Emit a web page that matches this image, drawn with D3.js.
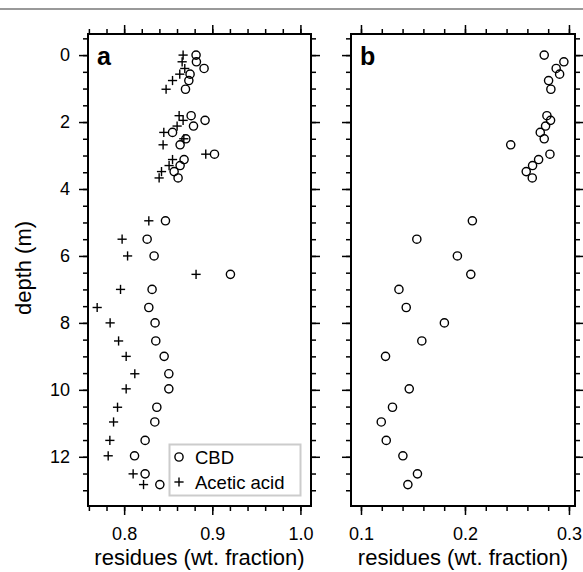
<!DOCTYPE html>
<html>
<head>
<meta charset="utf-8">
<script src="https://cdn.jsdelivr.net/npm/d3@7"></script>
<style>
  body { margin: 0; background: #fff; }
  svg { display: block; font-family: "Liberation Sans", Arial, sans-serif; }
  .tick text { font-size: 18px; fill: #000; }
  .tick line { stroke: #000; stroke-width: 1.5; }
</style>
</head>
<body>
<svg></svg>
<script>
(function (d3) {
  'use strict';

  // depth of each sample (m)
  const depth = [0, 0.2, 0.4, 0.57, 0.76, 1.02, 1.81, 1.95, 2.12, 2.31, 2.5, 2.68, 2.96, 3.12, 3.3, 3.48, 3.67,
    4.95, 5.5, 6.0, 6.55, 7.0, 7.54, 8.0, 8.54,
    9.0, 9.52, 9.97, 10.52, 10.96, 11.51, 11.97, 12.51, 12.83];

  // panel a: residues (wt. fraction)
  const cbdA = [0.8816, 0.882, 0.8907, 0.8748, 0.8734, 0.8696, 0.876, 0.8918, 0.8787, 0.8549, 0.87, 0.8635, 0.9025, 0.868, 0.8635, 0.8567, 0.8612,
    0.8469, 0.8261, 0.834, 0.9206, 0.8317, 0.828, 0.8351, 0.8359,
    0.8454, 0.8507, 0.8507, 0.8371, 0.8348, 0.8238, 0.8118, 0.8238, 0.8405];
  const aceticA = [0.8669, 0.8658, 0.8688, 0.8631, 0.8549, 0.8476, 0.8624, 0.8669, 0.8601, 0.845, 0.8677, 0.8442, 0.8926, 0.8549, 0.851, 0.8424, 0.8397,
    0.828, 0.7977, 0.8039, 0.8816, 0.7959, 0.7694, 0.7841, 0.7937,
    0.8023, 0.8121, 0.8023, 0.7925, 0.788, 0.7838, 0.7819, 0.8102, 0.822];

  // panel b
  const cbdB = [0.2762, 0.2951, 0.2877, 0.291, 0.2804, 0.2826, 0.2788, 0.2823, 0.2775, 0.2724, 0.2762, 0.244, 0.2817, 0.2708, 0.265, 0.2589, 0.2647,
    0.2071, 0.1537, 0.1927, 0.2056, 0.1365, 0.1435, 0.1802, 0.1585,
    0.1236, null, 0.1464, 0.1303, 0.1195, 0.1243, 0.1403, 0.1543, 0.1451];

  const depthTicks = [0, 2, 4, 6, 8, 10, 12];
  const depthMinor = d3.range(-0.5, 13.01, 0.5);
  const ticksA = [0.8, 0.9, 1.0];
  const minorA = d3.range(0.76, 1.011, 0.02);
  const ticksB = [0.1, 0.2, 0.3];
  const minorB = d3.range(0.1, 0.301, 0.02);
  const legendLabels = ['CBD', 'Acetic acid'];

  const width = 583, height = 572;
  const svg = d3.select('svg').attr('width', width).attr('height', height);

  // thin rule across the top
  svg.append('line')
      .attr('x1', 0).attr('x2', width)
      .attr('y1', 9).attr('y2', 9)
      .attr('stroke', '#777').attr('stroke-width', 1.5);

  const y = d3.scaleLinear().domain([-0.63, 13.47]).range([34, 506]);

  const panels = [
    { key: 'a', x: d3.scaleLinear().domain([0.759, 1.012]).range([88, 311]), ticks: ticksA, minor: minorA, fmt: d3.format('.1f'), yLabels: true },
    { key: 'b', x: d3.scaleLinear().domain([0.0904, 0.3058]).range([351, 575]), ticks: ticksB, minor: minorB, fmt: d3.format('.1f'), yLabels: false }
  ];

  const circle = (sel, r) => sel.attr('r', r).attr('fill', 'none').attr('stroke', '#000').attr('stroke-width', 1.4);
  const plus = (g, s) => {
    g.append('line').attr('x1', -s).attr('x2', s).attr('y1', 0).attr('y2', 0);
    g.append('line').attr('x1', 0).attr('x2', 0).attr('y1', -s).attr('y2', s);
  };

  panels.forEach(p => {
    const x = p.x;
    const [x0, x1] = x.range();
    const [y0, y1] = y.range();

    const noText = g => g.call(s => s.select('.domain').remove()).selectAll('text').remove();

    // minor ticks, four sides
    svg.append('g').attr('transform', `translate(0,${y1})`)
      .call(d3.axisBottom(x).tickValues(p.minor).tickSize(5).tickFormat('')).call(noText);
    svg.append('g').attr('transform', `translate(0,${y0})`)
      .call(d3.axisTop(x).tickValues(p.minor).tickSize(5).tickFormat('')).call(noText);
    svg.append('g').attr('transform', `translate(${x0},0)`)
      .call(d3.axisLeft(y).tickValues(depthMinor).tickSize(5).tickFormat('')).call(noText);
    svg.append('g').attr('transform', `translate(${x1},0)`)
      .call(d3.axisRight(y).tickValues(depthMinor).tickSize(5).tickFormat('')).call(noText);

    // major ticks
    svg.append('g').attr('transform', `translate(0,${y1})`)
      .call(d3.axisBottom(x).tickValues(p.ticks).tickSize(9).tickPadding(12).tickFormat(p.fmt))
      .call(g => g.select('.domain').remove());
    svg.append('g').attr('transform', `translate(0,${y0})`)
      .call(d3.axisTop(x).tickValues(p.ticks).tickSize(9).tickFormat('')).call(noText);
    const left = svg.append('g').attr('transform', `translate(${x0},0)`)
      .call(d3.axisLeft(y).tickValues(depthTicks).tickSize(9).tickPadding(9))
      .call(g => g.select('.domain').remove());
    if (!p.yLabels) left.selectAll('text').remove();
    svg.append('g').attr('transform', `translate(${x1},0)`)
      .call(d3.axisRight(y).tickValues(depthTicks).tickSize(9).tickFormat('')).call(noText);

    // frame
    svg.append('rect')
        .attr('x', x0).attr('y', y0)
        .attr('width', x1 - x0).attr('height', y1 - y0)
        .attr('fill', 'none').attr('stroke', '#000').attr('stroke-width', 2);

    svg.append('text')
        .attr('x', x0 + 9).attr('y', 65)
        .attr('font-size', 25).attr('font-weight', 'bold')
        .text(p.key);

    svg.append('text')
        .attr('x', (x0 + x1) / 2).attr('y', 565)
        .attr('text-anchor', 'middle').attr('font-size', 22)
        .text('residues (wt. fraction)');
  });

  const xa = panels[0].x, xb = panels[1].x;

  // panel a points
  const ptsA = depth.map((d, i) => ({ d, cbd: cbdA[i], ac: aceticA[i] }));
  svg.append('g').selectAll('circle').data(ptsA)
    .enter().append('circle')
      .attr('cx', d => xa(d.cbd)).attr('cy', d => y(d.d))
      .call(circle, 4.1);
  svg.append('g').attr('stroke', '#000').attr('stroke-width', 1.4)
    .selectAll('g').data(ptsA)
    .enter().append('g')
      .attr('transform', d => `translate(${xa(d.ac)},${y(d.d)})`)
      .each(function () { plus(d3.select(this), 4.6); });

  // panel b points
  const ptsB = depth.map((d, i) => ({ d, cbd: cbdB[i] })).filter(d => d.cbd != null);
  svg.append('g').selectAll('circle').data(ptsB)
    .enter().append('circle')
      .attr('cx', d => xb(d.cbd)).attr('cy', d => y(d.d))
      .call(circle, 4.1);

  // legend
  const legend = svg.append('g');
  legend.append('rect')
      .attr('x', 169.5).attr('y', 444.5).attr('width', 131).attr('height', 51)
      .attr('fill', '#fff').attr('stroke', '#ccc').attr('stroke-width', 2);
  legend.append('circle').attr('cx', 179).attr('cy', 457).call(circle, 4.1);
  const lp = legend.append('g').attr('transform', 'translate(179,482)')
      .attr('stroke', '#000').attr('stroke-width', 1.4);
  plus(lp, 4.6);
  legend.selectAll('text').data(legendLabels)
    .enter().append('text')
      .attr('x', 195).attr('y', (d, i) => 463.5 + i * 25)
      .attr('font-size', 18.5)
      .text(d => d);

  // y title
  svg.append('text')
      .attr('transform', 'translate(31,268) rotate(-90)')
      .attr('text-anchor', 'middle').attr('font-size', 22)
      .text('depth (m)');

}(d3));
</script>
</body>
</html>
